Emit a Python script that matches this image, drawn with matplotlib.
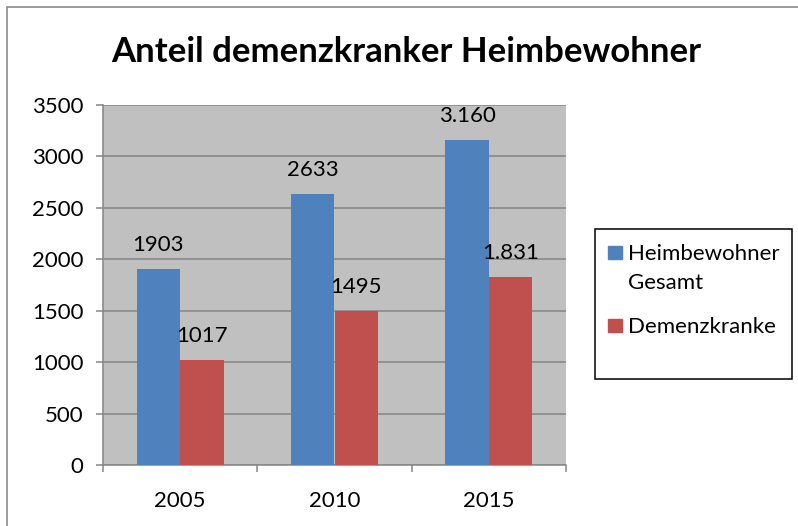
import numpy as np
import matplotlib.pyplot as plt
from matplotlib.patches import Rectangle

plt.rcParams['font.family'] = ['Lato', 'DejaVu Sans']

# data
years = ['2005', '2010', '2015']
gesamt = [1903, 2633, 3160]
demenz = [1017, 1495, 1831]
gesamt_labels = ['1903', '2633', '3.160']
demenz_labels = ['1017', '1495', '1.831']
series_names = ['Heimbewohner\nGesamt', 'Demenzkranke']
colors = ['#4F81BD', '#C0504D']

fig = plt.figure(figsize=(7.98, 5.26), dpi=100)
W, H = 798, 526
fs = 16

# outer chart border (left and top only visible)
fig.patches.append(Rectangle((7 / W, -0.1), 1.2, 1 - 7 / H + 0.1, transform=fig.transFigure,
                             fill=False, edgecolor='#8a8a8a', linewidth=1.2))

ax = fig.add_axes([103 / W, (H - 465) / H, (566 - 103) / W, (465 - 105) / H])
ax.set_facecolor('#C0C0C0')

x = np.arange(len(years))
w = 0.282
b1 = ax.bar(x - w / 2, gesamt, w, color=colors[0], zorder=3)
b2 = ax.bar(x + w / 2, demenz, w, color=colors[1], zorder=3)

for bars, labels in [(b1, gesamt_labels), (b2, demenz_labels)]:
    for rect, lab in zip(bars, labels):
        ax.annotate(lab, (rect.get_x() + rect.get_width() / 2, rect.get_height()),
                    xytext=(0, 13), textcoords='offset points', ha='center', va='baseline',
                    fontsize=fs, color='black')

ax.set_ylim(0, 3500)
ax.set_yticks(range(0, 3501, 500))
ax.set_xlim(-0.5, 2.5)
ax.set_xticks([-0.5, 0.5, 1.5, 2.5])
ax.set_xticklabels([])
ax.set_xticks(x, minor=True)
ax.set_xticklabels(years, minor=True)

ax.grid(axis='y', color='#868686', linewidth=1.1, zorder=1)
ax.set_axisbelow(True)
for s in ['top', 'right']:
    ax.spines[s].set_visible(False)
for s in ['left', 'bottom']:
    ax.spines[s].set_color('#868686')
    ax.spines[s].set_linewidth(1.1)

ax.tick_params(axis='y', which='major', length=5, width=1.1, color='#868686', pad=9, labelsize=fs)
ax.tick_params(axis='x', which='major', length=5, width=1.1, color='#868686', direction='out')
ax.tick_params(axis='x', which='minor', length=0, pad=19, labelsize=fs)

fig.text(406 / W, 1 - 62 / H, 'Anteil demenzkranker Heimbewohner', ha='center', va='baseline',
         fontsize=25, fontweight='bold')

# legend box
fig.patches.append(Rectangle((595 / W, (H - 379) / H), (792 - 595) / W, (379 - 229) / H,
                             transform=fig.transFigure, fill=False, edgecolor='black', linewidth=1.1))
text_base = [260, 333]
for name, c, ty in zip(series_names, colors, text_base):
    fig.patches.append(Rectangle((608 / W, (H - ty + 1) / H), 14 / W, 13 / H,
                                 transform=fig.transFigure, color=c))
    lines = name.split('\n')
    for i, line in enumerate(lines):
        fig.text(628 / W, 1 - (ty + 29 * i) / H, line, ha='left', va='baseline', fontsize=fs)

fig.savefig('out.png', dpi=100)
